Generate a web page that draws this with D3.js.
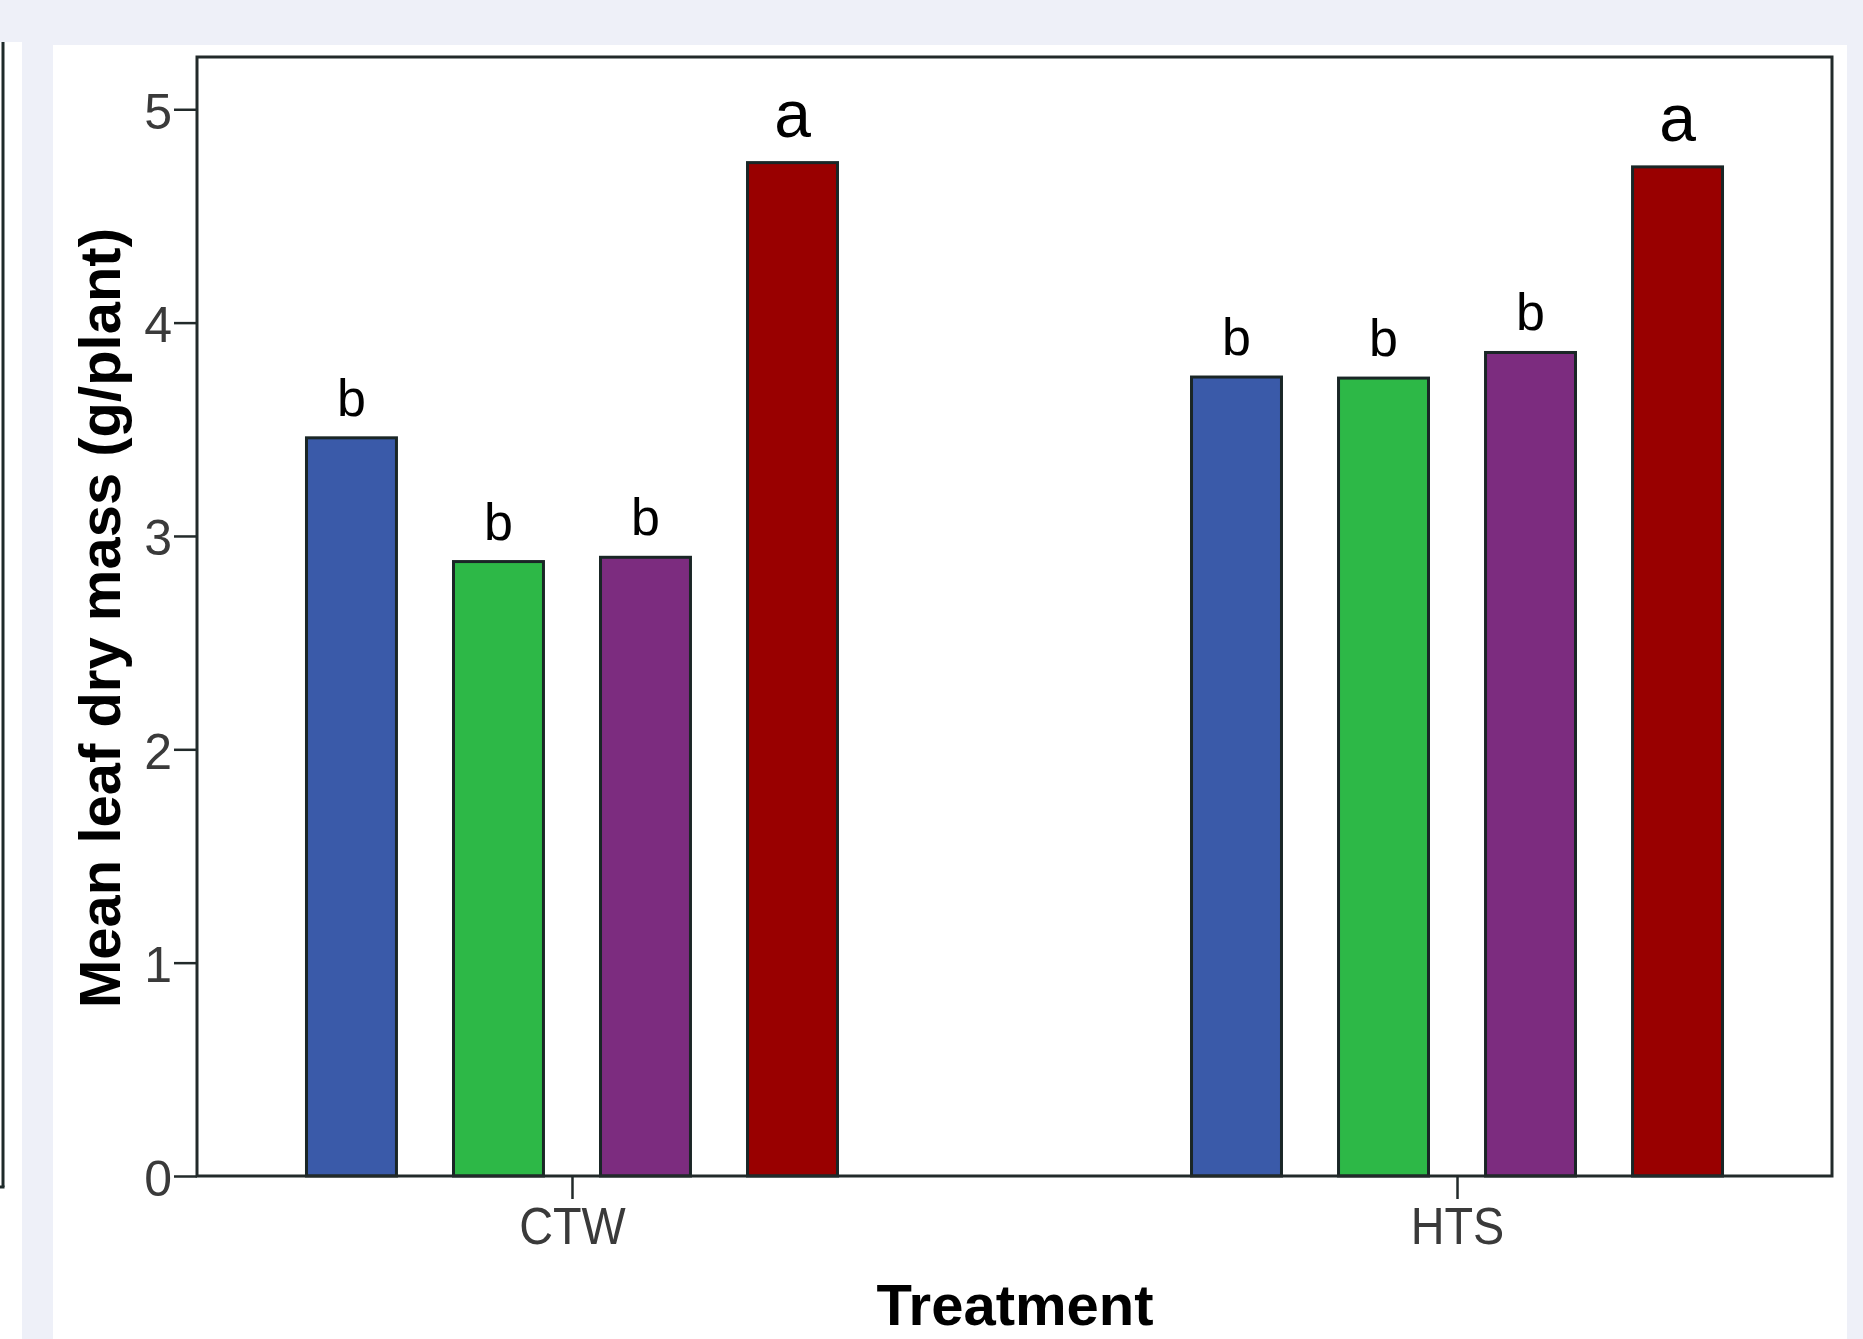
<!DOCTYPE html>
<html>
<head>
<meta charset="utf-8">
<script src="https://cdn.jsdelivr.net/npm/d3@7/dist/d3.min.js"></script>
<style>
  html, body { margin: 0; padding: 0; background: #eef0f8; }
  svg { display: block; }
  text { font-family: "Liberation Sans", Arial, sans-serif; }
</style>
</head>
<body>
<svg id="chart" width="1863" height="1339"></svg>
<script>
// ---- data ----
const groups = ["CTW", "HTS"];
const series = ["Series 1", "Series 2", "Series 3", "Series 4"];
const ctwValues = [3.46, 2.88, 2.90, 4.75];
const htsValues = [3.745, 3.74, 3.86, 4.73];
const ctwLetters = ["b", "b", "b", "a"];
const htsLetters = ["b", "b", "b", "a"];
const yTicks = [0, 1, 2, 3, 4, 5];
const seriesColors = ["#3a5aa9", "#2db847", "#7c2c7f", "#990000"];

const valuesByGroup = { CTW: ctwValues, HTS: htsValues };
const lettersByGroup = { CTW: ctwLetters, HTS: htsLetters };

const rows = [];
groups.forEach(g => series.forEach((s, i) => rows.push({
  group: g, series: s, value: valuesByGroup[g][i], letter: lettersByGroup[g][i], color: seriesColors[i]
})));

// ---- layout ----
const W = 1863, H = 1339;
const plot = { left: 197, right: 1832, top: 57, bottom: 1176 };

const svg = d3.select("#chart");

// panels
svg.append("rect").attr("x", 0).attr("y", 0).attr("width", W).attr("height", H).attr("fill", "#eef0f8");
svg.append("rect").attr("x", 0).attr("y", 42).attr("width", 22).attr("height", H - 42).attr("fill", "#ffffff");
svg.append("line").attr("x1", 3).attr("x2", 3).attr("y1", 42).attr("y2", 1187).attr("stroke", "#1e2a2a").attr("stroke-width", 3);
svg.append("line").attr("x1", 0).attr("x2", 4.5).attr("y1", 1187).attr("y2", 1187).attr("stroke", "#1e2a2a").attr("stroke-width", 3);
svg.append("rect").attr("x", 53).attr("y", 45).attr("width", 1847 - 53).attr("height", H - 45).attr("fill", "#ffffff");

// ---- scales ----
const y = d3.scaleLinear().domain([0, 5.245]).range([plot.bottom, plot.top]);
const x0 = d3.scalePoint().domain(groups).range([plot.left, plot.right]).padding(0.4237);
const x1 = d3.scaleBand().domain(series).range([-265.5, 265.5]).paddingInner(0.388).paddingOuter(0);

// ---- bars ----
svg.append("g").selectAll("rect").data(rows).join("rect")
  .attr("x", d => x0(d.group) + x1(d.series))
  .attr("y", d => y(d.value))
  .attr("width", x1.bandwidth())
  .attr("height", d => y(0) - y(d.value))
  .attr("fill", d => d.color)
  .attr("stroke", "#1a2626")
  .attr("stroke-width", 3);

// ---- letters ----
svg.append("g").selectAll("text").data(rows).join("text")
  .attr("x", d => x0(d.group) + x1(d.series) + x1.bandwidth() / 2)
  .attr("y", d => y(d.value) - (d.letter === "a" ? 26 : 22))
  .attr("text-anchor", "middle")
  .attr("font-size", d => d.letter === "a" ? 66 : 52)
  .attr("fill", "#000")
  .text(d => d.letter);

// ---- frame ----
svg.append("rect")
  .attr("x", plot.left).attr("y", plot.top)
  .attr("width", plot.right - plot.left).attr("height", plot.bottom - plot.top)
  .attr("fill", "none").attr("stroke", "#222a2a").attr("stroke-width", 3);

// ---- axes ----
const yAxis = svg.append("g")
  .attr("transform", `translate(${plot.left},0)`)
  .call(d3.axisLeft(y).tickValues(yTicks).tickFormat(d3.format("d")).tickSize(23).tickPadding(2));
yAxis.select(".domain").remove();
yAxis.selectAll(".tick line").attr("stroke", "#222a2a").attr("stroke-width", 2.5);
yAxis.selectAll(".tick text")
  .attr("font-size", 50)
  .attr("font-family", "Liberation Sans, Arial, sans-serif")
  .attr("fill", "#3a3a3a")
  .attr("dy", "0.38em");

const xAxis = svg.append("g")
  .attr("transform", `translate(0,${plot.bottom})`)
  .call(d3.axisBottom(x0).tickSize(23).tickPadding(8));
xAxis.select(".domain").remove();
xAxis.selectAll(".tick line").attr("stroke", "#222a2a").attr("stroke-width", 2.5);
xAxis.selectAll(".tick text")
  .attr("font-size", 52)
  .attr("font-family", "Liberation Sans, Arial, sans-serif")
  .attr("fill", "#3a3a3a")
  .attr("transform", "scale(0.9,1)");

// ---- titles ----
svg.append("text")
  .attr("x", 1015).attr("y", 1325)
  .attr("text-anchor", "middle")
  .attr("font-size", 58).attr("font-weight", "bold").attr("fill", "#000")
  .text("Treatment");

svg.append("text")
  .attr("transform", "translate(120,618) rotate(-90)")
  .attr("text-anchor", "middle")
  .attr("font-size", 58).attr("font-weight", "bold").attr("fill", "#000")
  .text("Mean leaf dry mass (g/plant)");
</script>
</body>
</html>
